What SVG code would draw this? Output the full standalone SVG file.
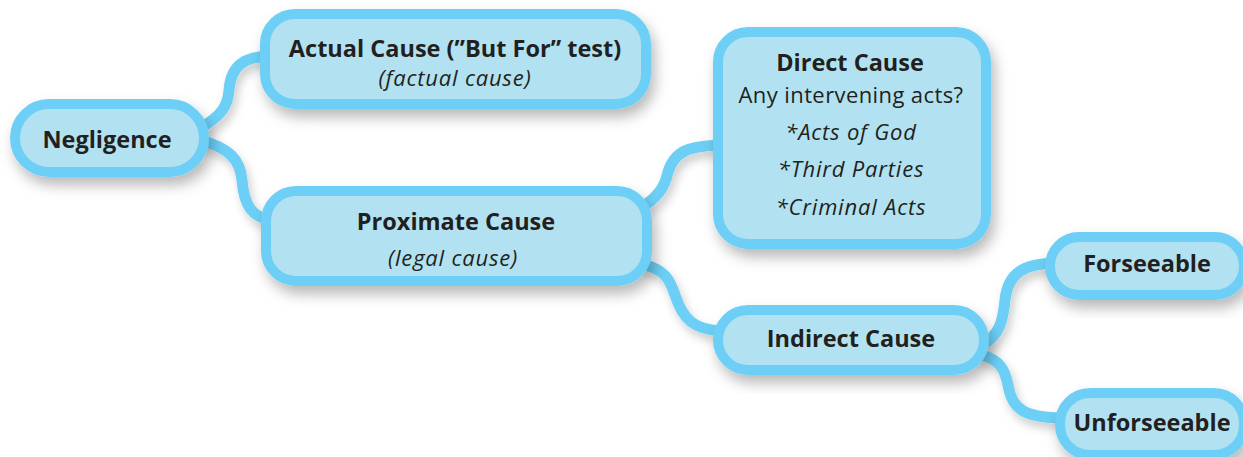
<svg xmlns="http://www.w3.org/2000/svg" width="1243" height="457" viewBox="0 0 1243 457">
<defs>
<filter id="sh" x="-20%" y="-30%" width="140%" height="170%">
<feDropShadow dx="4" dy="8" stdDeviation="7" flood-color="#000" flood-opacity="0.28"/>
</filter>
<filter id="shc" x="-30%" y="-30%" width="160%" height="160%">
<feDropShadow dx="3" dy="6" stdDeviation="5" flood-color="#000" flood-opacity="0.2"/>
</filter>
<style>
.node{fill:#b2e2f1;stroke:#6dcff6;stroke-width:10;filter:url(#sh)}
.conn{fill:none;stroke:#6dcff6;stroke-width:11;stroke-linecap:round;filter:url(#shc)}
text{font-family:"Open Sans","Noto Sans",sans-serif;fill:#231f20;text-anchor:middle}
.b{font-weight:bold;font-size:23.5px}
.r{font-size:22px;letter-spacing:0.4px}
.i{font-style:italic;font-size:22px;letter-spacing:0.8px}
</style>
</defs>
<rect width="1243" height="457" fill="#fff"/>
<g id="connectors">
<path class="conn" d="M200,128 C222,116 228,105 229,90 C231,65 245,56 272,56"/>
<path class="conn" d="M200,140 C230,148 240,160 242,180 C244,205 252,218 272,220"/>
<path class="conn" d="M645,205 C660,195 665,185 668,172 C675,150 690,146 722,145"/>
<path class="conn" d="M645,265 C665,270 670,280 675,295 C683,320 695,330 722,331"/>
<path class="conn" d="M982,345 C1000,335 1003,320 1005,300 C1008,272 1025,264 1054,263"/>
<path class="conn" d="M982,355 C1000,360 1005,370 1008,385 C1012,410 1025,417 1060,418"/>
</g>
<g id="negligence">
<rect class="node" x="15" y="104" width="189" height="68" rx="34"/>
<text class="b" x="107" y="148">Negligence</text>
</g>
<g id="actual-cause">
<rect class="node" x="265" y="14" width="381" height="90" rx="30"/>
<text class="b" x="455" y="57">Actual Cause (”But For” test)</text>
<text class="i" x="455" y="86">(factual cause)</text>
</g>
<g id="proximate-cause">
<rect class="node" x="266" y="191" width="381" height="90" rx="30"/>
<text class="b" x="456" y="230">Proximate Cause</text>
<text class="i" x="453" y="266">(legal cause)</text>
</g>
<g id="direct-cause">
<rect class="node" x="718" y="32" width="268" height="212" rx="30"/>
<text class="b" x="850" y="71">Direct Cause</text>
<text class="r" x="851" y="103">Any intervening acts?</text>
<text class="i" x="851" y="140">*Acts of God</text>
<text class="i" x="851" y="177">*Third Parties</text>
<text class="i" x="851" y="215">*Criminal Acts</text>
</g>
<g id="indirect-cause">
<rect class="node" x="718" y="310" width="266" height="60" rx="30"/>
<text class="b" x="851" y="347">Indirect Cause</text>
</g>
<g id="forseeable">
<rect class="node" x="1050" y="237" width="194" height="58" rx="29"/>
<text class="b" x="1147" y="272">Forseeable</text>
</g>
<g id="unforseeable">
<rect class="node" x="1060" y="393" width="184" height="62" rx="30"/>
<text class="b" x="1152" y="431">Unforseeable</text>
</g>
</svg>
